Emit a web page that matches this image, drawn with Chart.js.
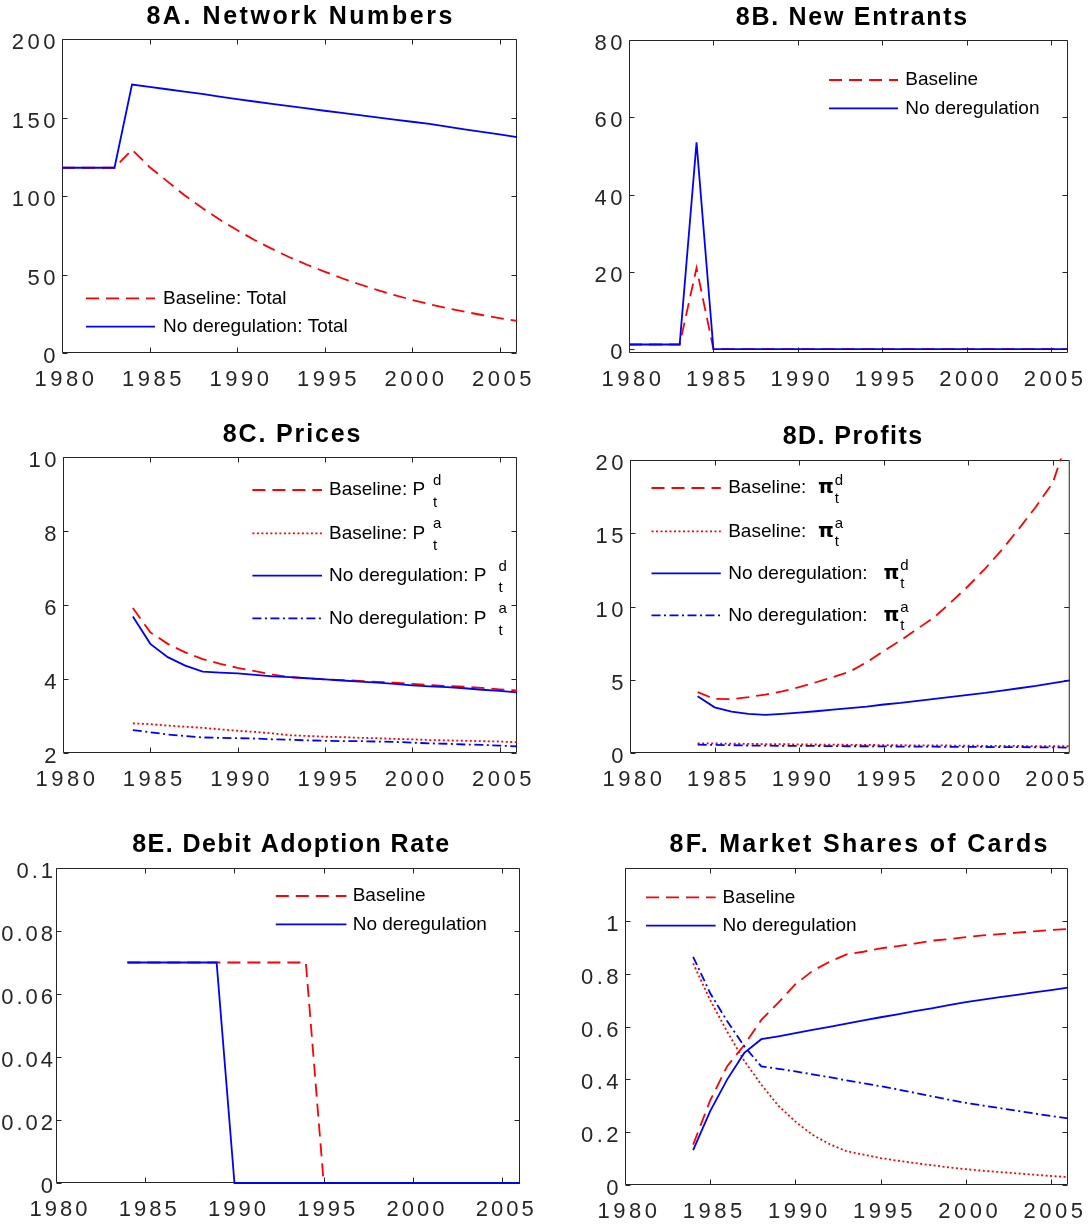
<!DOCTYPE html>
<html lang="en">
<head>
<meta charset="UTF-8">
<title>Figure 8: Counterfactual simulations</title>
<script src="https://cdn.jsdelivr.net/npm/chart.js@4.4.0/dist/chart.umd.min.js"></script>
<style>
  body { margin: 0; background: #fff; }
  #fig { position: relative; width: 1092px; height: 1226px; }
  #fig canvas { position: absolute; }
</style>
</head>
<body>
<div id="fig">
  <canvas id="c8a" width="546" height="410" style="left:0px;top:0px"></canvas>
  <canvas id="c8b" width="546" height="410" style="left:546px;top:0px"></canvas>
  <canvas id="c8c" width="546" height="410" style="left:0px;top:410px"></canvas>
  <canvas id="c8d" width="546" height="410" style="left:546px;top:410px"></canvas>
  <canvas id="c8e" width="546" height="406" style="left:0px;top:820px"></canvas>
  <canvas id="c8f" width="546" height="406" style="left:546px;top:820px"></canvas>
</div>
<script>
// ---- data ----
const years = [1980, 1981, 1982, 1983, 1984, 1985, 1986, 1987, 1988, 1989, 1990, 1991, 1992, 1993,
               1994, 1995, 1996, 1997, 1998, 1999, 2000, 2001, 2002, 2003, 2004, 2005, 2006];
const xTicks = [1980, 1985, 1990, 1995, 2000, 2005];

// 8A network numbers
const netBaseline = [118, 118, 118, 118, 129.5, 118.5, 109.5, 100.5, 92.5, 85, 78.3, 72, 66.3, 61,
                     56.2, 51.8, 47.6, 43.8, 40.2, 36.9, 33.8, 31.1, 28.6, 26.3, 24.2, 22.2, 20.4];
const netNoDereg  = [118, 118, 118, 118, 171, 169.5, 168, 166.5, 165, 163.3, 161.7, 160.2, 158.7, 157.2,
                     155.8, 154.3, 152.9, 151.5, 150.1, 148.7, 147.3, 145.9, 144.2, 142.5, 140.8, 139.2, 137.5];
const yTicksA = [0, 50, 100, 150, 200];

// 8B new entrants
const entBaseline = [1.2, 1.2, 1.2, 1.2, 21, 0, 0, 0, 0, 0, 0, 0, 0, 0,
                     0, 0, 0, 0, 0, 0, 0, 0, 0, 0, 0, 0, 0];
const entNoDereg  = [1.2, 1.2, 1.2, 1.2, 53.5, 0, 0, 0, 0, 0, 0, 0, 0, 0,
                     0, 0, 0, 0, 0, 0, 0, 0, 0, 0, 0, 0, 0];
const yTicksB = [0, 20, 40, 60, 80];

// 8C prices (debit d, ATM a)
const priceBaseD = [null, null, null, null, 5.92, 5.26, 4.95, 4.72, 4.54, 4.41, 4.30, 4.21, 4.12, 4.05,
                    4.02, 3.99, 3.97, 3.95, 3.92, 3.90, 3.87, 3.84, 3.81, 3.79, 3.76, 3.72, 3.69];
const priceBaseA = [null, null, null, null, 2.80, 2.78, 2.74, 2.71, 2.68, 2.64, 2.60, 2.57, 2.53, 2.48,
                    2.46, 2.44, 2.43, 2.41, 2.40, 2.38, 2.37, 2.35, 2.34, 2.33, 2.32, 2.31, 2.29];
const priceNoD   = [null, null, null, null, 5.69, 4.95, 4.59, 4.36, 4.20, 4.17, 4.15, 4.11, 4.07, 4.05,
                    4.02, 3.99, 3.96, 3.93, 3.90, 3.87, 3.83, 3.80, 3.78, 3.75, 3.71, 3.68, 3.64];
const priceNoA   = [null, null, null, null, 2.62, 2.56, 2.50, 2.46, 2.42, 2.41, 2.40, 2.39, 2.37, 2.36,
                    2.34, 2.33, 2.32, 2.32, 2.31, 2.30, 2.28, 2.26, 2.25, 2.23, 2.22, 2.20, 2.18];
const yTicksC = [2, 4, 6, 8, 10];

// 8D profits
const profitBaseD = [null, null, null, null, 4.15, 3.69, 3.67, 3.81, 3.99, 4.20, 4.49, 4.83, 5.18, 5.56,
                     6.20, 6.96, 7.69, 8.48, 9.28, 10.31, 11.40, 12.59, 13.89, 15.32, 16.81, 18.45, 21.9];
const profitBaseA = [null, null, null, null, 0.66, 0.65, 0.64, 0.62, 0.61, 0.60, 0.59, 0.58, 0.57, 0.56,
                     0.55, 0.54, 0.53, 0.52, 0.52, 0.51, 0.50, 0.49, 0.49, 0.48, 0.47, 0.47, 0.46];
const profitNoD   = [null, null, null, null, 3.88, 3.12, 2.83, 2.67, 2.60, 2.67, 2.76, 2.85, 2.96, 3.06,
                     3.17, 3.31, 3.42, 3.56, 3.69, 3.83, 3.97, 4.10, 4.26, 4.42, 4.58, 4.77, 4.95];
const profitNoA   = [null, null, null, null, 0.57, 0.55, 0.53, 0.51, 0.50, 0.49, 0.48, 0.48, 0.47, 0.46,
                     0.46, 0.45, 0.44, 0.44, 0.43, 0.42, 0.42, 0.41, 0.40, 0.40, 0.39, 0.38, 0.37];
const yTicksD = [0, 5, 10, 15, 20];

// 8E debit adoption rate
const adoptBaseline = [null, null, null, null, 0.07, 0.07, 0.07, 0.07, 0.07, 0.07, 0.07, 0.07, 0.07, 0.07,
                       0.07, 0, 0, 0, 0, 0, 0, 0, 0, 0, 0, 0, 0];
const adoptNoDereg  = [null, null, null, null, 0.07, 0.07, 0.07, 0.07, 0.07, 0.07, 0, 0, 0, 0,
                       0, 0, 0, 0, 0, 0, 0, 0, 0, 0, 0, 0, 0];
const yTicksE = [0, 0.02, 0.04, 0.06, 0.08, 0.1];

// 8F market shares of cards
const shareBaseD = [null, null, null, null, 0.153, 0.32, 0.45, 0.53, 0.625, 0.69, 0.76, 0.81, 0.845, 0.873,
                    0.883, 0.896, 0.904, 0.914, 0.925, 0.931, 0.938, 0.945, 0.95, 0.955, 0.96, 0.965, 0.969];
const shareBaseA = [null, null, null, null, 0.839, 0.70, 0.58, 0.47, 0.38, 0.30, 0.24, 0.19, 0.155, 0.128,
                    0.115, 0.102, 0.092, 0.083, 0.075, 0.067, 0.06, 0.054, 0.049, 0.044, 0.039, 0.034, 0.030];
const shareNoD   = [null, null, null, null, 0.132, 0.28, 0.40, 0.50, 0.552, 0.563, 0.575, 0.587, 0.599, 0.611,
                    0.623, 0.635, 0.646, 0.658, 0.669, 0.681, 0.692, 0.702, 0.711, 0.720, 0.729, 0.738, 0.747];
const shareNoA   = [null, null, null, null, 0.864, 0.726, 0.62, 0.525, 0.449, 0.44, 0.43, 0.419, 0.408, 0.396,
                    0.385, 0.374, 0.362, 0.349, 0.336, 0.323, 0.311, 0.301, 0.291, 0.281, 0.271, 0.261, 0.252];
const yTicksF = [0, 0.2, 0.4, 0.6, 0.8, 1];

// ---- styles ----
const FONT = '"Liberation Sans", Arial, Helvetica, sans-serif';
const RED = '#ff0000', BLUE = '#0000ff';
const DASH = [13, 7], DOT = [2, 2.5], DASHDOT = [9, 3.5, 2, 3.5], SOLID = [];

function series(data, color, dash, idx) {
  // later series sit on top, like MATLAB's hold on
  return { data: data, borderColor: color, borderDash: dash, borderWidth: 1.8, clip: 1.5,
           pointRadius: 0, pointHoverRadius: 0, fill: false, tension: 0, order: -idx };
}

// frame with inward ticks on all four sides, title and legend drawn by hand
const framePlugin = {
  id: 'frame',
  beforeDraw(chart, args, o) {
    chart.ctx.letterSpacing = (o.spacing || 3.5) + 'px';   // wide MATLAB tick labels
  },
  beforeDatasetsDraw(chart) {
    const { ctx, chartArea: a, scales } = chart;
    const L = a.left + 0.5, R = a.right - 0.5, T = a.top + 0.5, B = a.bottom - 0.5;
    ctx.save();
    ctx.strokeStyle = '#262626';
    ctx.lineWidth = 1;
    ctx.beginPath();
    ctx.rect(L, T, R - L, B - T);
    scales.x.ticks.forEach(t => {
      const px = Math.round(scales.x.getPixelForValue(t.value)) + 0.5;
      ctx.moveTo(px, B); ctx.lineTo(px, B - 5);
      ctx.moveTo(px, T); ctx.lineTo(px, T + 5);
    });
    scales.y.ticks.forEach(t => {
      const py = Math.round(scales.y.getPixelForValue(t.value)) + 0.5;
      ctx.moveTo(L, py); ctx.lineTo(L + 5, py);
      ctx.moveTo(R, py); ctx.lineTo(R - 5, py);
    });
    ctx.stroke();
    ctx.restore();
  },
  afterDraw(chart, args, o) {
    const ctx = chart.ctx;
    ctx.save();
    ctx.textBaseline = 'middle';
    ctx.textAlign = 'left';
    ctx.fillStyle = '#000';

    // title
    ctx.font = 'bold 25px ' + FONT;
    ctx.letterSpacing = '0px';
    const w0 = ctx.measureText(o.title).width;
    ctx.letterSpacing = ((o.titleW - w0) / (o.title.length - 1)) + 'px';
    ctx.fillText(o.title, o.titleX - o.titleW / 2, o.titleY);

    // legend (no box)
    ctx.letterSpacing = '0px';
    const lg = o.legend;
    lg.items.forEach((it, i) => {
      const ds = chart.data.datasets[it.ds];
      const y = lg.rows[i];
      ctx.strokeStyle = ds.borderColor;
      ctx.lineWidth = ds.borderWidth;
      ctx.setLineDash(ds.borderDash);
      ctx.beginPath();
      ctx.moveTo(lg.x0, y);
      ctx.lineTo(lg.x1, y);
      ctx.stroke();
      ctx.setLineDash([]);

      ctx.font = '19px ' + FONT;
      ctx.fillText(it.text, lg.tx, y);
      let sx = lg.tx + ctx.measureText(it.text).width + (it.gap || 0);
      if (it.sym) {
        ctx.font = 'bold 20px "DejaVu Sans"';
        ctx.fillText(it.sym, it.symX, y);
        sx = it.symX + ctx.measureText(it.sym).width + 1;
      }
      if (it.sup) {
        ctx.font = '15px ' + FONT;
        ctx.fillText(it.sup, sx, y + lg.supDy);
        ctx.fillText(it.sub, sx, y + lg.subDy);
      }
    });
    ctx.restore();
  }
};

function makePanel(id, box, yMin, yMax, yTicks, yPad, datasets, frame) {
  const canvas = document.getElementById(id);
  const W = canvas.width, H = canvas.height;
  const tickFont = { family: FONT, size: 22 };
  return new Chart(canvas, {
    type: 'line',
    data: { labels: years, datasets: datasets },
    options: {
      responsive: false,
      animation: false,
      events: [],
      spanGaps: false,
      layout: { padding: { left: 0, top: box.top, right: W - box.right, bottom: 0 } },
      plugins: {
        legend: { display: false },
        tooltip: { enabled: false },
        frame: frame
      },
      scales: {
        x: {
          type: 'linear', min: 1980, max: 2006,
          afterBuildTicks: s => { s.ticks = xTicks.map(v => ({ value: v })); },
          afterFit: s => { s.height = H - box.bottom; },
          grid: { display: false, drawTicks: false },
          border: { display: false },
          ticks: { font: tickFont, color: '#262626', padding: 14, labelOffset: 4,
                   maxRotation: 0, autoSkip: false, callback: v => String(v) }
        },
        y: {
          type: 'linear', min: yMin, max: yMax,
          afterBuildTicks: s => { s.ticks = yTicks.map(v => ({ value: v })); },
          afterFit: s => { s.width = box.left; },
          grid: { display: false, drawTicks: false },
          border: { display: false },
          ticks: { font: tickFont, color: '#262626', padding: yPad, labelOffset: 4,
                   autoSkip: false, callback: v => String(v) }
        }
      }
    },
    plugins: [framePlugin]
  });
}

// 8A
makePanel('c8a', { left: 62, top: 39, right: 517, bottom: 353 }, 0, 200, yTicksA, 3, [
  series(netBaseline, RED, DASH, 0),
  series(netNoDereg, BLUE, SOLID, 1)
], {
  title: '8A. Network Numbers', titleX: 299.4, titleW: 306, titleY: 17.5,
  legend: { x0: 86, x1: 155, tx: 163, rows: [298.3, 326.7], items: [
    { ds: 0, text: 'Baseline: Total' },
    { ds: 1, text: 'No deregulation: Total' }
  ] }
});

// 8B
makePanel('c8b', { left: 83, top: 40, right: 522, bottom: 353 }, -1, 80, yTicksB, 3, [
  series(entBaseline, RED, DASH, 0),
  series(entNoDereg, BLUE, SOLID, 1)
], {
  title: '8B. New Entrants', titleX: 305.5, titleW: 231.5, titleY: 18.5,
  legend: { x0: 283, x1: 352, tx: 359.3, rows: [80, 108.3], items: [
    { ds: 0, text: 'Baseline' },
    { ds: 1, text: 'No deregulation' }
  ] }
});

// 8C
makePanel('c8c', { left: 63, top: 47, right: 517, bottom: 343 }, 2, 10, yTicksC, 3, [
  series(priceBaseD, RED, DASH, 0),
  series(priceBaseA, RED, DOT, 1),
  series(priceNoD, BLUE, SOLID, 2),
  series(priceNoA, BLUE, DASHDOT, 3)
], {
  title: '8C. Prices', titleX: 291.6, titleW: 137.5, titleY: 25,
  legend: { x0: 252.4, x1: 322, tx: 329, rows: [80, 123.3, 165.7, 208.3], supDy: -9, subDy: 12.5, items: [
    { ds: 0, text: 'Baseline: P', sup: 'd', sub: 't', gap: 8 },
    { ds: 1, text: 'Baseline: P', sup: 'a', sub: 't', gap: 8 },
    { ds: 2, text: 'No deregulation: P', sup: 'd', sub: 't', gap: 12 },
    { ds: 3, text: 'No deregulation: P', sup: 'a', sub: 't', gap: 12 }
  ] }
});

// 8D
makePanel('c8d', { left: 84, top: 50, right: 528, bottom: 343 }, 0, 20, yTicksD, 3, [
  series(profitBaseD, RED, DASH, 0),
  series(profitBaseA, RED, DOT, 1),
  series(profitNoD, BLUE, SOLID, 2),
  series(profitNoA, BLUE, DASHDOT, 3)
], {
  title: '8D. Profits', titleX: 306.4, titleW: 139.3, titleY: 26.7,
  legend: { x0: 105.5, x1: 174.8, tx: 182.2, rows: [78, 121.3, 163.3, 205.3], supDy: -7, subDy: 11, items: [
    { ds: 0, text: 'Baseline:', sym: '\u03c0', symX: 272, sup: 'd', sub: 't' },
    { ds: 1, text: 'Baseline:', sym: '\u03c0', symX: 272, sup: 'a', sub: 't' },
    { ds: 2, text: 'No deregulation:', sym: '\u03c0', symX: 337.5, sup: 'd', sub: 't' },
    { ds: 3, text: 'No deregulation:', sym: '\u03c0', symX: 337.5, sup: 'a', sub: 't' }
  ] }
});

// 8E
makePanel('c8e', { left: 56, top: 48, right: 520, bottom: 363 }, 0, 0.1, yTicksE, 0, [
  series(adoptBaseline, RED, DASH, 0),
  series(adoptNoDereg, BLUE, SOLID, 1)
], {
  spacing: 3,
  title: '8E. Debit Adoption Rate', titleX: 290.7, titleW: 317, titleY: 25,
  legend: { x0: 275.8, x1: 346.4, tx: 352.7, rows: [76, 104.3], items: [
    { ds: 0, text: 'Baseline' },
    { ds: 1, text: 'No deregulation' }
  ] }
});

// 8F
makePanel('c8f', { left: 79, top: 48, right: 522, bottom: 365 }, 0, 1.2, yTicksF, 3, [
  series(shareBaseD, RED, DASH, 0),
  series(shareBaseA, RED, DOT, 1),
  series(shareNoD, BLUE, SOLID, 2),
  series(shareNoA, BLUE, DASHDOT, 3)
], {
  title: '8F. Market Shares of Cards', titleX: 312.5, titleW: 377.8, titleY: 25,
  legend: { x0: 100, x1: 169.6, tx: 176.5, rows: [77.3, 105.7], items: [
    { ds: 0, text: 'Baseline' },
    { ds: 2, text: 'No deregulation' }
  ] }
});
</script>
</body>
</html>
